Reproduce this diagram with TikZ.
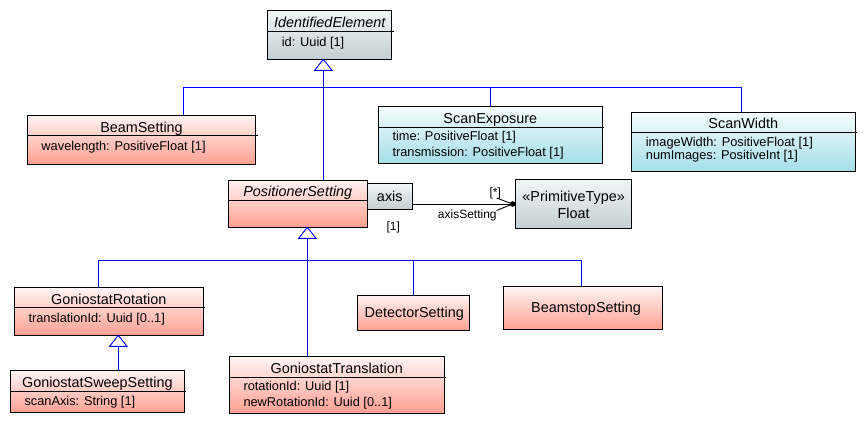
\documentclass[tikz,border=0pt]{standalone}
\usepackage{fontspec}
\setmainfont{Liberation Sans}
\usetikzlibrary{calc}
\definecolor{rtop}{RGB}{255,244,244}
\definecolor{rbot}{RGB}{255,160,146}
\definecolor{ctop}{RGB}{245,252,253}
\definecolor{cbot}{RGB}{165,222,232}
\definecolor{gtop}{RGB}{241,245,246}
\definecolor{gbot}{RGB}{195,207,212}
\definecolor{genblue}{RGB}{0,0,255}
\newcommand\umltitle{\fontsize{14.4}{17}\selectfont}
\newcommand\umlattr{\fontsize{12.8}{15}\selectfont}
\newcommand\umllbl{\fontsize{12}{14}\selectfont}
\tikzset{
  umlbox/.style={draw=black, line width=0.9pt, anchor=north west, inner sep=0pt, outer sep=0pt},
  redbox/.style={umlbox, top color=rtop, bottom color=rbot},
  cyanbox/.style={umlbox, top color=ctop, bottom color=cbot},
  graybox/.style={umlbox, top color=gtop, bottom color=gbot},
  ttext/.style={anchor=base, inner sep=0pt, font=\umltitle},
  atext/.style={anchor=base west, inner sep=0pt, font=\umlattr},
  ltext/.style={anchor=base, inner sep=0pt, font=\umllbl},
  divider/.style={draw=black, line width=0.9pt},
  genline/.style={draw=genblue, line width=0.9pt},
  gentri/.style={draw=genblue, line width=0.9pt, fill=white},
  assoc/.style={draw=black, line width=0.9pt}
}
\begin{document}
\begin{tikzpicture}[x=1pt,y=-1pt]
\useasboundingbox[fill=white] (0,0) rectangle (865,424);

% ---------- boxes ----------
\node[graybox, minimum width=124pt, minimum height=48.6pt] (ident) at (267.7,10.7) {};
\node[redbox, minimum width=228.4pt, minimum height=48.7pt] (beam) at (27.3,115.3) {};
\node[cyanbox, minimum width=224pt, minimum height=56.3pt] (scanexp) at (378.3,106.7) {};
\node[cyanbox, minimum width=223.3pt, minimum height=58.7pt] (scanw) at (631.7,112.3) {};
\node[redbox, minimum width=139pt, minimum height=47.3pt] (pos) at (228.3,180) {};
\node[graybox, minimum width=45pt, minimum height=26pt] (axis) at (367.3,183.3) {};
\node[graybox, minimum width=116pt, minimum height=49pt] (float) at (515.7,179.3) {};
\node[redbox, minimum width=189pt, minimum height=48pt] (rot) at (14.3,287.3) {};
\node[redbox, minimum width=174pt, minimum height=41.6pt] (sweep) at (10.3,370.7) {};
\node[redbox, minimum width=215pt, minimum height=56.6pt] (trans) at (229.3,356.7) {};
\node[redbox, minimum width=112pt, minimum height=35.3pt] (det) at (357.3,295) {};
\node[redbox, minimum width=159.4pt, minimum height=42.6pt] (stop) at (503.3,286.7) {};

% ---------- dividers ----------
\draw[divider] (ident.west |- 0,31.3) -- ($(ident.east |- 0,31.3)+(2,0)$);
\draw[divider] (beam.west |- 0,135.7) -- ($(beam.east |- 0,135.7)+(2,0)$);
\draw[divider] (scanexp.west |- 0,127.3) -- ($(scanexp.east |- 0,127.3)+(2,0)$);
\draw[divider] (scanw.west |- 0,132.7) -- ($(scanw.east |- 0,132.7)+(2,0)$);
\draw[divider] (pos.west |- 0,200.7) -- (pos.east |- 0,200.7);
\draw[divider] (rot.west |- 0,307.7) -- ($(rot.east |- 0,307.7)+(2,0)$);
\draw[divider] (sweep.west |- 0,391.7) -- ($(sweep.east |- 0,391.7)+(2,0)$);
\draw[divider] (trans.west |- 0,377.3) -- ($(trans.east |- 0,377.3)+(2,0)$);

% ---------- texts ----------
\node[ttext] (identT) at (329.7,27.3) {\itshape IdentifiedElement};
\node[atext] (identA) at (281.7,46) {id: Uuid [1]};

\node[ttext] (beamT) at (141.5,132.3) {BeamSetting};
\node[atext] (beamA) at (41.3,150) {wavelength: PositiveFloat [1]};

\node[ttext] (scanexpT) at (490.3,123) {ScanExposure};
\node[atext] (scanexpA) at (392.3,140.7) {time: PositiveFloat [1]};
\node[atext] (scanexpB) at (392.3,156) {transmission: PositiveFloat [1]};

\node[ttext] (scanwT) at (743.3,128) {ScanWidth};
\node[atext] (scanwA) at (645.7,146.5) {imageWidth: PositiveFloat [1]};
\node[atext] (scanwB) at (645.7,159.3) {numImages: PositiveInt [1]};

\node[ttext] (posT) at (297.8,196) {\itshape PositionerSetting};
\node[ttext] (axisT) at (389.8,201.7) {axis};

\node[ttext] (floatS) at (573.7,201.7) {«PrimitiveType»};
\node[ttext] (floatT) at (573.7,218.3) {Float};

\node[ttext] (rotT) at (108.8,304) {GoniostatRotation};
\node[atext] (rotA) at (28.3,322.7) {translationId: Uuid [0..1]};

\node[ttext] (sweepT) at (97.3,387.3) {GoniostatSweepSetting};
\node[atext] (sweepA) at (24.3,405.7) {scanAxis: String [1]};

\node[ttext] (transT) at (336.8,373.3) {GoniostatTranslation};
\node[atext] (transA) at (243.3,390.7) {rotationId: Uuid [1]};
\node[atext] (transB) at (243.3,406) {newRotationId: Uuid [0..1]};

\node[ttext] (detT) at (414.3,317.7) {DetectorSetting};
\node[ttext] (stopT) at (586,312.7) {BeamstopSetting};

% ---------- generalizations from IdentifiedElement ----------
\coordinate (t1) at (323.3,59.3);
\coordinate (bus1L) at (183.3,87.3);
\coordinate (bus1R) at (741.7,87.3);
\draw[genline] (bus1L) -- (bus1R);
\draw[genline] (bus1L) -- (bus1L |- beam.north);
\draw[genline] (490.7,87.3) -- (490.7,0 |- scanexp.north);
\draw[genline] (bus1R) -- (bus1R |- scanw.north);
\draw[genline] ($(t1)+(0,11)$) -- (t1 |- pos.north);
\draw[gentri] (t1) -- ++(-8.7,11) -- ++(17.4,0) -- cycle;

% ---------- generalizations from PositionerSetting ----------
\coordinate (t2) at (307.3,227.3);
\coordinate (bus2L) at (98.3,260.3);
\coordinate (bus2R) at (581,260.3);
\draw[genline] (bus2L) -- (bus2R);
\draw[genline] (bus2L) -- (bus2L |- rot.north);
\draw[genline] (413.3,260.3) -- (413.3,0 |- det.north);
\draw[genline] (bus2R) -- (bus2R |- stop.north);
\draw[genline] ($(t2)+(0,11)$) -- (t2 |- trans.north);
\draw[gentri] (t2) -- ++(-8.7,11) -- ++(17.4,0) -- cycle;

% ---------- GoniostatRotation <- GoniostatSweepSetting ----------
\coordinate (t3) at (118.3,335.3);
\draw[genline] ($(t3)+(0,11)$) -- (t3 |- sweep.north);
\draw[gentri] (t3) -- ++(-8.7,11) -- ++(17.4,0) -- cycle;

% ---------- qualified association ----------
\coordinate (adot) at (512.6,204);
\draw[assoc] (axis.east |- adot) -- (adot);
\draw[assoc] ($(adot)+(-16,-6)$) -- (adot) -- ($(adot)+(-16,6.5)$);
\fill[black] (adot) circle (2.8pt);
\node[ltext] (lstar) at (495.3,196) {[*]};
\node[ltext] (lrole) at (467.3,218.3) {axisSetting};
\node[ltext] (lone) at (393.3,230) {[1]};
\end{tikzpicture}
\end{document}
